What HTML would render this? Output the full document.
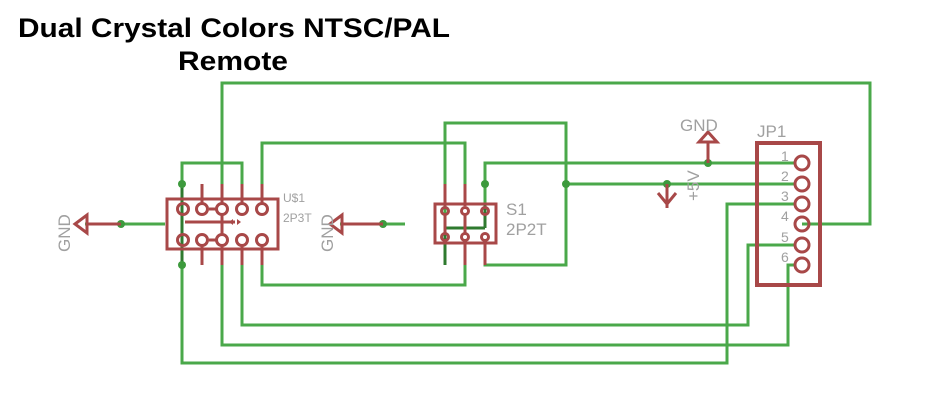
<!DOCTYPE html>
<html><head><style>body{margin:0;background:#fff}svg{display:block}</style></head><body>
<svg width="946" height="417" viewBox="0 0 946 417" xmlns="http://www.w3.org/2000/svg" font-family="Liberation Sans, sans-serif">
<text x="18" y="37" font-size="27" font-weight="bold" textLength="432" lengthAdjust="spacingAndGlyphs">Dual Crystal Colors NTSC/PAL</text>
<text x="178" y="70" font-size="27" font-weight="bold" textLength="110" lengthAdjust="spacingAndGlyphs">Remote</text>
<g fill="none" stroke="#4aa84a" stroke-width="3">
<polyline points="222,184 222,83 870,83 870,224 802,224"/>
<polyline points="182,184 182,163 242,163 242,184"/>
<polyline points="262,184 262,143 465,143 465,184"/>
<polyline points="445,220 445,123 566,123 566,265 485,265 485,245"/>
<polyline points="566,184 795,184"/>
<polyline points="485,205 485,163 795,163"/>
<polyline points="795,204 727,204 727,363 182,363 182,265"/>
<polyline points="795,245 748,245 748,325 242,325 242,265"/>
<polyline points="795,265 788,265 788,345 222,345 222,265"/>
<polyline points="262,265 262,285 465,285 465,265"/>
<line x1="85" y1="224" x2="165" y2="224"/>
<line x1="340" y1="224" x2="405" y2="224"/>
<line x1="182" y1="184" x2="182" y2="265" stroke="#2f7a2f"/>
<line x1="445" y1="220" x2="445" y2="265" stroke="#2f7a2f"/>
<line x1="445" y1="228" x2="485" y2="228" stroke="#2f7a2f"/>
<line x1="485" y1="205" x2="485" y2="228" stroke="#2f7a2f"/>
</g>
<g fill="#3d9a3d">
<circle cx="182" cy="184" r="4"/><circle cx="182" cy="265" r="4"/>
<circle cx="121" cy="224" r="4"/><circle cx="383" cy="224" r="4"/>
<circle cx="485" cy="184" r="4"/><circle cx="566" cy="184" r="4"/>
<circle cx="708" cy="163" r="4"/><circle cx="667" cy="184" r="4"/>
</g>
<g fill="none" stroke="#a84848" stroke-width="3">
<rect x="167" y="199" width="111" height="50"/>
<line x1="202" y1="184" x2="202" y2="203"/><line x1="222" y1="184" x2="222" y2="203"/><line x1="242" y1="184" x2="242" y2="203"/><line x1="262" y1="184" x2="262" y2="203"/>
<line x1="202" y1="246" x2="202" y2="265"/><line x1="222" y1="246" x2="222" y2="265"/><line x1="242" y1="246" x2="242" y2="265"/><line x1="262" y1="246" x2="262" y2="265"/>
<line x1="209" y1="209" x2="216" y2="209"/><line x1="209" y1="240" x2="216" y2="240"/>
<line x1="222" y1="215" x2="222" y2="234"/><line x1="185" y1="222" x2="235" y2="222"/>
<circle cx="183" cy="209" r="5.5"/><circle cx="202" cy="209" r="5.5"/><circle cx="222" cy="209" r="5.5"/><circle cx="242" cy="209" r="5.5"/><circle cx="262" cy="209" r="5.5"/>
<circle cx="183" cy="240" r="5.5"/><circle cx="202" cy="240" r="5.5"/><circle cx="222" cy="240" r="5.5"/><circle cx="242" cy="240" r="5.5"/><circle cx="262" cy="240" r="5.5"/>
<rect x="435" y="204" width="61" height="39"/>
<line x1="445" y1="184" x2="445" y2="206"/><line x1="465" y1="184" x2="465" y2="206"/>
<line x1="465" y1="242" x2="465" y2="265"/><line x1="485" y1="242" x2="485" y2="265"/>
<line x1="445" y1="214" x2="445" y2="234"/><line x1="465" y1="214" x2="465" y2="234"/>
<circle cx="445" cy="211" r="3.5"/><circle cx="465" cy="211" r="3.5"/><circle cx="485" cy="211" r="3.5"/>
<circle cx="445" cy="237" r="3.5"/><circle cx="465" cy="237" r="3.5"/><circle cx="485" cy="237" r="3.5"/>
<line x1="87" y1="224" x2="121" y2="224"/><polygon points="75,224 87,215 87,233"/>
<line x1="342" y1="224" x2="383" y2="224"/><polygon points="330,224 342,215 342,233"/>
<line x1="708" y1="143" x2="708" y2="163"/><polygon points="708,132 699,142 717,142"/>
<line x1="667" y1="184" x2="667" y2="208"/><polyline points="658,193 667,204 676,193"/>
<rect x="757" y="143" width="63" height="142" stroke-width="4"/>
<circle cx="802" cy="163" r="7"/><circle cx="802" cy="184" r="7"/><circle cx="802" cy="204" r="7"/><circle cx="802" cy="224" r="7"/><circle cx="802" cy="245" r="7"/><circle cx="802" cy="265" r="7"/>
</g>
<path d="M229,222 l4,-3 v6z M241,222 l-4,-3 v6z" fill="#a84848"/>
<g fill="#a0a0a0">
<text x="283" y="202" font-size="12">U$1</text>
<text x="283" y="222" font-size="12">2P3T</text>
<text x="506" y="215" font-size="17">S1</text>
<text x="506" y="235" font-size="17">2P2T</text>
<text x="757" y="137" font-size="17">JP1</text>
<text x="680" y="131" font-size="17">GND</text>
<text x="70" y="252" font-size="17" transform="rotate(-90 70 252)">GND</text>
<text x="333" y="252" font-size="17" transform="rotate(-90 333 252)">GND</text>
<text x="699" y="201" font-size="17" transform="rotate(-90 699 201)">+5V</text>
<g font-size="14"><text x="781" y="161">1</text><text x="781" y="181">2</text><text x="781" y="201">3</text><text x="781" y="221">4</text><text x="781" y="242">5</text><text x="781" y="262">6</text></g>
</g>
</svg>
</body></html>
